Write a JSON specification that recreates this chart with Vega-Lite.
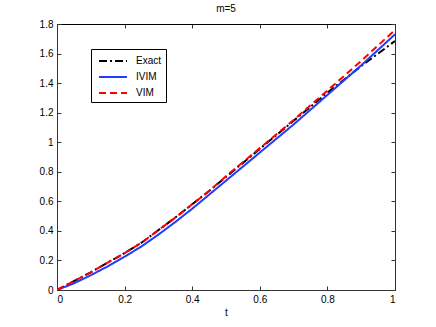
{
  "$schema": "https://vega.github.io/schema/vega-lite/v6.json",
  "width": 338,
  "height": 266,
  "autosize": {"type": "none"},
  "padding": {"left": 57, "top": 24, "right": 41, "bottom": 37},
  "background": "white",
  "config": {
    "font": "Liberation Sans",
    "view": {"stroke": "black", "strokeWidth": 1},
    "axis": {"grid": false, "domainColor": "#333", "tickColor": "#333", "labelColor": "black", "labelFontSize": 10, "titleFontSize": 10, "titleFontWeight": "normal", "labelFont": "Liberation Sans", "titleFont": "Liberation Sans"}
  },
  "title": {"text": "m=5", "fontSize": 10, "fontWeight": "normal", "font": "Liberation Sans", "offset": 5, "color": "black"},
  "data": {"values": [
    {"t": 0, "v": 0, "s": "Exact"},
    {"t": 0.05, "v": 0.06, "s": "Exact"},
    {"t": 0.1, "v": 0.12, "s": "Exact"},
    {"t": 0.15, "v": 0.185, "s": "Exact"},
    {"t": 0.2, "v": 0.25, "s": "Exact"},
    {"t": 0.25, "v": 0.32, "s": "Exact"},
    {"t": 0.3, "v": 0.405, "s": "Exact"},
    {"t": 0.35, "v": 0.49, "s": "Exact"},
    {"t": 0.4, "v": 0.58, "s": "Exact"},
    {"t": 0.45, "v": 0.67, "s": "Exact"},
    {"t": 0.5, "v": 0.765, "s": "Exact"},
    {"t": 0.55, "v": 0.86, "s": "Exact"},
    {"t": 0.6, "v": 0.955, "s": "Exact"},
    {"t": 0.65, "v": 1.05, "s": "Exact"},
    {"t": 0.7, "v": 1.145, "s": "Exact"},
    {"t": 0.75, "v": 1.24, "s": "Exact"},
    {"t": 0.8, "v": 1.335, "s": "Exact"},
    {"t": 0.85, "v": 1.425, "s": "Exact"},
    {"t": 0.9, "v": 1.515, "s": "Exact"},
    {"t": 0.95, "v": 1.6, "s": "Exact"},
    {"t": 1, "v": 1.685, "s": "Exact"},
    {"t": 0, "v": 0, "s": "IVIM"},
    {"t": 0.05, "v": 0.045, "s": "IVIM"},
    {"t": 0.1, "v": 0.1, "s": "IVIM"},
    {"t": 0.15, "v": 0.16, "s": "IVIM"},
    {"t": 0.2, "v": 0.225, "s": "IVIM"},
    {"t": 0.25, "v": 0.295, "s": "IVIM"},
    {"t": 0.3, "v": 0.375, "s": "IVIM"},
    {"t": 0.35, "v": 0.46, "s": "IVIM"},
    {"t": 0.4, "v": 0.55, "s": "IVIM"},
    {"t": 0.45, "v": 0.645, "s": "IVIM"},
    {"t": 0.5, "v": 0.74, "s": "IVIM"},
    {"t": 0.55, "v": 0.835, "s": "IVIM"},
    {"t": 0.6, "v": 0.93, "s": "IVIM"},
    {"t": 0.65, "v": 1.025, "s": "IVIM"},
    {"t": 0.7, "v": 1.12, "s": "IVIM"},
    {"t": 0.75, "v": 1.22, "s": "IVIM"},
    {"t": 0.8, "v": 1.32, "s": "IVIM"},
    {"t": 0.85, "v": 1.42, "s": "IVIM"},
    {"t": 0.9, "v": 1.52, "s": "IVIM"},
    {"t": 0.95, "v": 1.625, "s": "IVIM"},
    {"t": 1, "v": 1.73, "s": "IVIM"},
    {"t": 0, "v": 0, "s": "VIM"},
    {"t": 0.05, "v": 0.06, "s": "VIM"},
    {"t": 0.1, "v": 0.12, "s": "VIM"},
    {"t": 0.15, "v": 0.185, "s": "VIM"},
    {"t": 0.2, "v": 0.25, "s": "VIM"},
    {"t": 0.25, "v": 0.32, "s": "VIM"},
    {"t": 0.3, "v": 0.405, "s": "VIM"},
    {"t": 0.35, "v": 0.49, "s": "VIM"},
    {"t": 0.4, "v": 0.58, "s": "VIM"},
    {"t": 0.45, "v": 0.67, "s": "VIM"},
    {"t": 0.5, "v": 0.77, "s": "VIM"},
    {"t": 0.55, "v": 0.865, "s": "VIM"},
    {"t": 0.6, "v": 0.96, "s": "VIM"},
    {"t": 0.65, "v": 1.055, "s": "VIM"},
    {"t": 0.7, "v": 1.15, "s": "VIM"},
    {"t": 0.75, "v": 1.25, "s": "VIM"},
    {"t": 0.8, "v": 1.35, "s": "VIM"},
    {"t": 0.85, "v": 1.45, "s": "VIM"},
    {"t": 0.9, "v": 1.55, "s": "VIM"},
    {"t": 0.95, "v": 1.655, "s": "VIM"},
    {"t": 1, "v": 1.76, "s": "VIM"}
  ]},
  "layer": [
    {
      "mark": {"type": "line", "strokeWidth": 2, "clip": true},
      "encoding": {
        "x": {"field": "t", "type": "quantitative", "scale": {"domain": [0, 1], "nice": false, "zero": false},
          "axis": {"orient": "bottom", "title": "t", "values": [0, 0.2, 0.4, 0.6, 0.8, 1], "format": "~g", "tickSize": -4, "labelPadding": 8, "titlePadding": 3}},
        "y": {"field": "v", "type": "quantitative", "scale": {"domain": [0, 1.8], "nice": false},
          "axis": {"orient": "left", "title": null, "values": [0, 0.2, 0.4, 0.6, 0.8, 1, 1.2, 1.4, 1.6, 1.8], "format": "~g", "tickSize": -4, "labelPadding": 8}},
        "color": {"field": "s", "type": "nominal", "scale": {"domain": ["Exact", "IVIM", "VIM"], "range": ["#000000", "#1f3cff", "#ff0000"]},
          "legend": {"title": null, "orient": "none", "legendX": 34, "legendY": 25, "symbolType": "M-2,0H2", "symbolSize": 196, "symbolStrokeWidth": 2, "symbolOffset": 10, "labelFontSize": 10, "labelFont": "Liberation Sans", "labelColor": "black", "strokeColor": "black", "fillColor": "white", "padding": 4, "rowPadding": 3, "labelOffset": 15}},
        "strokeDash": {"field": "s", "type": "nominal", "scale": {"domain": ["Exact", "IVIM", "VIM"], "range": [[8, 3, 2, 3], [1, 0], [7, 4]]}}
      }
    },
    {
      "mark": {"type": "line", "strokeOpacity": 0},
      "encoding": {
        "x": {"field": "t", "type": "quantitative", "scale": {"domain": [0, 1], "nice": false, "zero": false},
          "axis": {"orient": "top", "title": null, "values": [0, 0.2, 0.4, 0.6, 0.8, 1], "labels": false, "tickSize": -4, "domainColor": "black"}},
        "y": {"field": "v", "type": "quantitative", "scale": {"domain": [0, 1.8], "nice": false},
          "axis": {"orient": "right", "title": null, "values": [0, 0.2, 0.4, 0.6, 0.8, 1, 1.2, 1.4, 1.6, 1.8], "labels": false, "tickSize": -4}}
      }
    }
  ],
  "resolve": {"axis": {"x": "independent", "y": "independent"}}
}
